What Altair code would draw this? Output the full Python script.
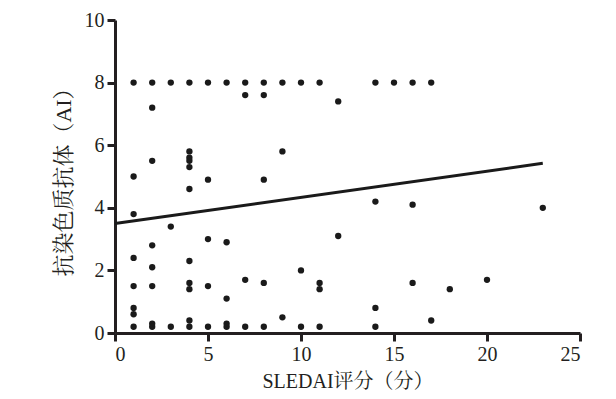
import altair as alt
import pandas as pd

# SLEDAI score (x) and anti-chromatin antibody AI (y)
sledai = [1, 2, 3, 4, 5, 6, 7, 8, 9, 10, 11, 14, 15, 16, 17,
          7, 8, 2, 12,
          4, 4, 4, 4, 9, 2, 1, 5, 8, 4,
          14, 16, 23,
          1, 3, 12, 5, 6, 2, 1, 4, 2, 10,
          7, 20, 8, 11, 4, 16, 1, 2, 5, 4, 11, 18, 6,
          1, 14, 1, 9, 4, 17, 2, 6,
          1, 2, 3, 4, 5, 6, 7, 8, 10, 11, 14]
ai = [8, 8, 8, 8, 8, 8, 8, 8, 8, 8, 8, 8, 8, 8, 8,
      7.6, 7.6, 7.2, 7.4,
      5.8, 5.6, 5.5, 5.3, 5.8, 5.5, 5.0, 4.9, 4.9, 4.6,
      4.2, 4.1, 4.0,
      3.8, 3.4, 3.1, 3.0, 2.9, 2.8, 2.4, 2.3, 2.1, 2.0,
      1.7, 1.7, 1.6, 1.6, 1.6, 1.6, 1.5, 1.5, 1.5, 1.4, 1.4, 1.4, 1.1,
      0.8, 0.8, 0.6, 0.5, 0.4, 0.4, 0.3, 0.3,
      0.2, 0.2, 0.2, 0.2, 0.2, 0.2, 0.2, 0.2, 0.2, 0.2, 0.2]

# fitted line end points
fit_x = [0, 23]
fit_y = [3.5, 5.42]

x_ticks = [0, 5, 10, 15, 20, 25]
y_ticks = [0, 2, 4, 6, 8, 10]

pts = pd.DataFrame({"x": sledai, "y": ai})
fit = pd.DataFrame({"x": fit_x, "y": fit_y})

FONT = "Liberation Serif, Noto Serif CJK SC, Noto Sans CJK SC"

xs = alt.Scale(domain=[0, 25], nice=False, zero=False)
ys = alt.Scale(domain=[0, 10], nice=False, zero=False)

xax = alt.Axis(values=x_ticks, title="SLEDAI评分（分）", grid=False,
               titleFontSize=20, titlePadding=7)
yax = alt.Axis(values=y_ticks, title="抗染色质抗体（AI）", grid=False,
               titleFontSize=22, titlePadding=9)

points = alt.Chart(pts).mark_circle(size=40, color="#1a1a1a", opacity=1).encode(
    x=alt.X("x:Q", scale=xs, axis=xax),
    y=alt.Y("y:Q", scale=ys, axis=yax),
)

line = alt.Chart(fit).mark_line(color="#1a1a1a", strokeWidth=3).encode(
    x=alt.X("x:Q", scale=xs),
    y=alt.Y("y:Q", scale=ys),
)

chart = alt.layer(line, points).properties(
    width=465,
    height=313,
    autosize=alt.AutoSizeParams(type="none"),
    padding={"left": 107, "top": 12, "right": 28, "bottom": 58},
).configure_view(stroke=None).configure_axis(
    domainColor="#231f20",
    domainWidth=3,
    tickColor="#231f20",
    tickWidth=3,
    tickSize=8,
    labelFont=FONT,
    labelFontSize=20,
    labelColor="#231f20",
    labelPadding=3,
    titleFont=FONT,
    titleFontWeight="normal",
    titleColor="#231f20",
)

chart.save("out.html", embed_options={"renderer": "svg", "actions": False})
